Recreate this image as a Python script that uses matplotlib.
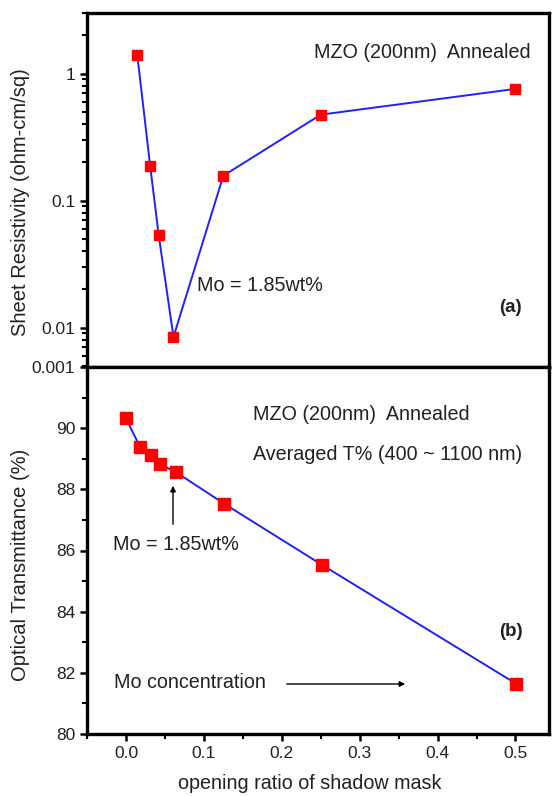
import matplotlib
matplotlib.use("Agg")
import matplotlib.pyplot as plt
from matplotlib.ticker import MultipleLocator, LogLocator, FixedLocator, FixedFormatter, NullFormatter

plt.rcParams['font.family'] = ['Liberation Sans', 'DejaVu Sans']

# Data (a) sheet resistivity
x_a = [0.0145, 0.031, 0.042, 0.061, 0.125, 0.25, 0.50]
rho_a = [1.41, 0.189, 0.0537, 0.00845, 0.157, 0.475, 0.758]

# Data (b) optical transmittance
x_b = [0.0, 0.018, 0.032, 0.044, 0.0637, 0.126, 0.251, 0.501]
t_b = [90.32, 89.39, 89.12, 88.82, 88.57, 87.53, 85.54, 81.64]

x_ticks = [0.0, 0.1, 0.2, 0.3, 0.4, 0.5]
x_tick_labels = ['0.0', '0.1', '0.2', '0.3', '0.4', '0.5']
a_ytick_labels = ['0.001', '0.01', '0.1', '1']
b_yticks = [80, 82, 84, 86, 88, 90]

W, H = 552, 796
fig = plt.figure(figsize=(W/100, H/100), dpi=100)
L, R = 87/W, 549/W
axa = fig.add_axes([L, 1-367/H, R-L, (367-13)/H])
axb = fig.add_axes([L, 1-734/H, R-L, (734-367)/H])

TXT = '#222222'
xlim = (-0.05, 0.543)
for ax in (axa, axb):
    ax.set_xlim(*xlim)
    for s in ax.spines.values():
        s.set_linewidth(2.4)
    ax.xaxis.set_major_locator(FixedLocator(x_ticks))
    ax.xaxis.set_minor_locator(MultipleLocator(0.05))
    ax.tick_params(which='major', direction='out', length=5, width=1.8,
                   labelsize=12.5, labelcolor=TXT)
    ax.tick_params(which='minor', direction='out', length=3.5, width=1.5)

# Panel (a)
ylo, yhi = 0.0049, 3.0
axa.set_yscale('log')
axa.set_ylim(ylo, yhi)
axa.plot(x_a, rho_a, color='#2020ff', lw=1.4, marker='s', ms=7.5,
         mfc='#ff0000', mec='#ff0000', zorder=3)
axa.yaxis.set_major_locator(FixedLocator([ylo, 0.01, 0.1, 1]))
axa.yaxis.set_major_formatter(FixedFormatter(a_ytick_labels))
axa.yaxis.set_minor_locator(LogLocator(base=10, subs=[2, 3, 4, 5, 6, 7, 8, 9]))
axa.yaxis.set_minor_formatter(NullFormatter())
axa.tick_params(axis='x', labelbottom=False)
axa.set_ylabel('Sheet Resistivity (ohm-cm/sq)', fontsize=14.5, color=TXT)
axa.yaxis.set_label_coords(-0.123, 0.466)

axa.text(314/W, 1-53/H, 'MZO (200nm)  Annealed', transform=fig.transFigure,
         fontsize=14.2, va='center', ha='left', color=TXT)
axa.text(197/W, 1-285/H, 'Mo = 1.85wt%', transform=fig.transFigure,
         fontsize=14.2, va='center', ha='left', color=TXT)
axa.text(499/W, 1-308/H, '(a)', transform=fig.transFigure,
         fontsize=13.5, va='center', ha='left', fontweight='bold', color=TXT)

# Panel (b)
axb.set_ylim(80, 92)
axb.plot(x_b, t_b, color='#2020ff', lw=1.4, marker='s', ms=9,
         mfc='#ff0000', mec='#ff0000', zorder=3)
axb.yaxis.set_major_locator(FixedLocator(b_yticks))
axb.yaxis.set_minor_locator(MultipleLocator(1))
axb.set_xticklabels(x_tick_labels)
axb.set_ylabel('Optical Transmittance (%)', fontsize=14.5, color=TXT)
axb.yaxis.set_label_coords(-0.123, 0.46)
axb.set_xlabel('opening ratio of shadow mask', fontsize=14.2, color=TXT)
axb.xaxis.set_label_coords(0.483, -0.11)

axb.text(253/W, 1-415/H, 'MZO (200nm)  Annealed', transform=fig.transFigure,
         fontsize=14.2, va='center', ha='left', color=TXT)
axb.text(253/W, 1-455/H, 'Averaged T% (400 ~ 1100 nm)', transform=fig.transFigure,
         fontsize=14.2, va='center', ha='left', color=TXT)
axb.text(113/W, 1-545/H, 'Mo = 1.85wt%', transform=fig.transFigure,
         fontsize=14.2, va='center', ha='left', color=TXT)
axb.text(499/W, 1-632/H, '(b)', transform=fig.transFigure,
         fontsize=13.5, va='center', ha='left', fontweight='bold', color=TXT)
axb.text(114/W, 1-682/H, 'Mo concentration', transform=fig.transFigure,
         fontsize=14.2, va='center', ha='left', color=TXT)

fig.add_artist(matplotlib.patches.FancyArrowPatch((173/W, 1-527/H), (173/W, 1-483/H),
               transform=fig.transFigure, arrowstyle='-|>', mutation_scale=8,
               color='black', lw=1.0))
fig.add_artist(matplotlib.patches.FancyArrowPatch((284/W, 1-684/H), (408/W, 1-684/H),
               transform=fig.transFigure, arrowstyle='-|>', mutation_scale=8,
               color='black', lw=1.0))

fig.savefig('out.png', dpi=100)
